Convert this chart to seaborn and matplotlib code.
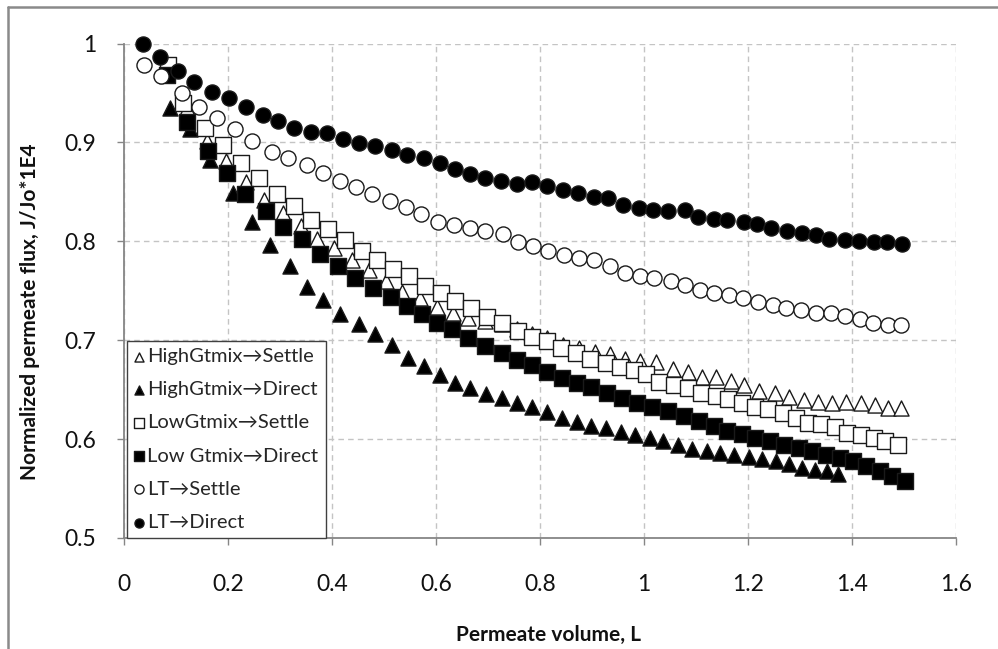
import matplotlib
matplotlib.use('Agg')
import matplotlib.pyplot as plt
import seaborn as sns
from matplotlib.lines import Line2D
from matplotlib.ticker import MultipleLocator, FuncFormatter

# values
high_settle_x = [0.084, 0.122, 0.159, 0.196, 0.234, 0.270, 0.305, 0.340, 0.371, 0.404,
                 0.438, 0.472, 0.504, 0.534, 0.569, 0.601, 0.633, 0.662, 0.694, 0.726,
                 0.755, 0.785, 0.813, 0.844, 0.875, 0.905, 0.934, 0.963, 0.993, 1.023,
                 1.055, 1.085, 1.111, 1.138, 1.167, 1.193, 1.222, 1.251, 1.278, 1.307,
                 1.335, 1.362, 1.389, 1.417, 1.444, 1.470, 1.495]
high_settle_y = [0.978, 0.935, 0.901, 0.881, 0.860, 0.842, 0.829, 0.815, 0.802, 0.793,
                 0.781, 0.771, 0.760, 0.749, 0.743, 0.734, 0.728, 0.722, 0.719, 0.716,
                 0.711, 0.706, 0.702, 0.695, 0.692, 0.688, 0.686, 0.681, 0.679, 0.678,
                 0.671, 0.668, 0.663, 0.663, 0.659, 0.655, 0.649, 0.647, 0.643, 0.640,
                 0.638, 0.637, 0.638, 0.637, 0.634, 0.631, 0.631]

high_direct_x = [0.088, 0.127, 0.165, 0.210, 0.247, 0.281, 0.319, 0.351, 0.383, 0.415,
                 0.451, 0.483, 0.515, 0.547, 0.576, 0.608, 0.637, 0.666, 0.697, 0.726,
                 0.756, 0.785, 0.813, 0.842, 0.871, 0.898, 0.926, 0.956, 0.983, 1.011,
                 1.037, 1.065, 1.093, 1.121, 1.147, 1.174, 1.201, 1.227, 1.253, 1.278,
                 1.304, 1.329, 1.351, 1.373]
high_direct_y = [0.935, 0.914, 0.882, 0.849, 0.820, 0.796, 0.775, 0.754, 0.741, 0.726,
                 0.716, 0.706, 0.695, 0.682, 0.674, 0.665, 0.657, 0.652, 0.646, 0.642,
                 0.637, 0.632, 0.627, 0.621, 0.617, 0.613, 0.611, 0.607, 0.604, 0.601,
                 0.598, 0.594, 0.590, 0.588, 0.586, 0.584, 0.582, 0.580, 0.578, 0.575,
                 0.571, 0.569, 0.568, 0.565]

low_settle_x = [0.085, 0.114, 0.156, 0.191, 0.225, 0.260, 0.294, 0.326, 0.360, 0.393,
                0.425, 0.457, 0.486, 0.518, 0.548, 0.579, 0.609, 0.637, 0.667, 0.698,
                0.727, 0.757, 0.785, 0.813, 0.841, 0.869, 0.897, 0.926, 0.954, 0.981,
                1.004, 1.028, 1.058, 1.085, 1.110, 1.138, 1.161, 1.188, 1.214, 1.238,
                1.267, 1.293, 1.315, 1.341, 1.367, 1.391, 1.417, 1.442, 1.463, 1.488]
low_settle_y = [0.978, 0.940, 0.915, 0.897, 0.879, 0.864, 0.848, 0.836, 0.822, 0.812,
                0.801, 0.790, 0.781, 0.772, 0.765, 0.755, 0.748, 0.740, 0.733, 0.723,
                0.717, 0.709, 0.703, 0.699, 0.692, 0.687, 0.681, 0.677, 0.673, 0.670,
                0.666, 0.658, 0.655, 0.652, 0.647, 0.644, 0.641, 0.637, 0.632, 0.630,
                0.626, 0.621, 0.616, 0.615, 0.612, 0.606, 0.604, 0.601, 0.598, 0.594]

low_direct_x = [0.082, 0.121, 0.162, 0.198, 0.233, 0.274, 0.306, 0.342, 0.377, 0.412,
                0.444, 0.479, 0.513, 0.544, 0.573, 0.601, 0.630, 0.662, 0.694, 0.726,
                0.755, 0.784, 0.813, 0.842, 0.871, 0.899, 0.928, 0.957, 0.987, 1.015,
                1.047, 1.076, 1.105, 1.134, 1.159, 1.188, 1.214, 1.243, 1.269, 1.298,
                1.324, 1.350, 1.376, 1.402, 1.427, 1.453, 1.476, 1.502]
low_direct_y = [0.968, 0.921, 0.891, 0.869, 0.848, 0.831, 0.814, 0.802, 0.787, 0.775,
                0.763, 0.753, 0.744, 0.735, 0.726, 0.717, 0.711, 0.702, 0.694, 0.687,
                0.680, 0.675, 0.668, 0.662, 0.657, 0.653, 0.647, 0.642, 0.637, 0.632,
                0.628, 0.623, 0.618, 0.613, 0.608, 0.605, 0.601, 0.598, 0.594, 0.591,
                0.588, 0.584, 0.581, 0.578, 0.573, 0.568, 0.563, 0.558]

lt_settle_x = [0.038, 0.071, 0.111, 0.144, 0.178, 0.213, 0.247, 0.284, 0.315, 0.351,
               0.383, 0.415, 0.447, 0.477, 0.511, 0.542, 0.572, 0.604, 0.635, 0.665,
               0.695, 0.728, 0.757, 0.786, 0.816, 0.846, 0.875, 0.904, 0.934, 0.964,
               0.993, 1.020, 1.051, 1.078, 1.108, 1.135, 1.163, 1.191, 1.220, 1.248,
               1.274, 1.302, 1.331, 1.360, 1.387, 1.415, 1.441, 1.469, 1.495]
lt_settle_y = [0.978, 0.967, 0.950, 0.936, 0.925, 0.914, 0.901, 0.890, 0.884, 0.877,
               0.869, 0.861, 0.855, 0.848, 0.841, 0.835, 0.828, 0.820, 0.816, 0.813,
               0.810, 0.807, 0.799, 0.795, 0.790, 0.786, 0.783, 0.781, 0.775, 0.768,
               0.765, 0.763, 0.760, 0.756, 0.751, 0.748, 0.746, 0.743, 0.739, 0.736,
               0.733, 0.731, 0.728, 0.727, 0.724, 0.721, 0.717, 0.715, 0.715]

lt_direct_x = [0.037, 0.069, 0.103, 0.135, 0.170, 0.201, 0.235, 0.267, 0.296, 0.326,
               0.359, 0.391, 0.422, 0.452, 0.483, 0.515, 0.545, 0.577, 0.607, 0.636,
               0.665, 0.695, 0.725, 0.755, 0.785, 0.813, 0.844, 0.874, 0.903, 0.930,
               0.960, 0.990, 1.017, 1.047, 1.078, 1.104, 1.135, 1.160, 1.192, 1.217,
               1.245, 1.275, 1.303, 1.330, 1.356, 1.387, 1.414, 1.442, 1.468, 1.497]
lt_direct_y = [1.000, 0.986, 0.972, 0.961, 0.951, 0.945, 0.936, 0.928, 0.922, 0.915,
               0.911, 0.909, 0.903, 0.899, 0.896, 0.892, 0.887, 0.884, 0.879, 0.873,
               0.868, 0.864, 0.861, 0.858, 0.860, 0.856, 0.852, 0.849, 0.845, 0.844,
               0.837, 0.834, 0.832, 0.831, 0.832, 0.825, 0.823, 0.822, 0.820, 0.817,
               0.813, 0.810, 0.808, 0.806, 0.802, 0.801, 0.800, 0.799, 0.799, 0.797]

labels = ['HighGtmix\u2192Settle', 'HighGtmix\u2192Direct', 'LowGtmix\u2192Settle',
          'Low Gtmix\u2192Direct', 'LT\u2192Settle', 'LT\u2192Direct']

sns.set_theme(style='white')
plt.rcParams['font.family'] = ['Lato', 'DejaVu Sans']

fig = plt.figure(figsize=(9.98, 6.49), dpi=100)
ax = fig.add_axes([124 / 998, 1 - 538 / 649, 832 / 998, 494.5 / 649])

series = [
    (high_settle_x, high_settle_y, '^', 'white'),
    (high_direct_x, high_direct_y, '^', 'black'),
    (low_settle_x, low_settle_y, 's', 'white'),
    (low_direct_x, low_direct_y, 's', 'black'),
    (lt_settle_x, lt_settle_y, 'o', 'white'),
    (lt_direct_x, lt_direct_y, 'o', 'black'),
]
for lab, (xs, ys, mk, fc) in zip(labels, series):
    sns.scatterplot(x=xs, y=ys, marker=mk, s=118, color=fc, edgecolor='#1a1a1a',
                    linewidth=1.0, ax=ax, label=lab, zorder=3, clip_on=False)

ax.set_xlim(0, 1.6)
ax.set_ylim(0.5, 1.0)
ax.xaxis.set_major_locator(MultipleLocator(0.2))
ax.yaxis.set_major_locator(MultipleLocator(0.1))
fmt = FuncFormatter(lambda v, p: f'{v:g}')
ax.xaxis.set_major_formatter(fmt)
ax.yaxis.set_major_formatter(fmt)

ax.grid(True, linestyle=(0, (4, 3)), color='#c4c4c4', linewidth=1.0)
ax.set_axisbelow(True)
for side in ['top', 'right']:
    ax.spines[side].set_visible(False)
for side in ['left', 'bottom']:
    ax.spines[side].set_color('#868686')
    ax.spines[side].set_linewidth(1.3)

ax.tick_params(axis='both', bottom=True, left=True, direction='out', length=5,
               width=1, color='#868686', labelsize=16.5, labelcolor='#111111')
ax.tick_params(axis='x', pad=21)
ax.tick_params(axis='y', pad=15)

ax.set_xlabel('Permeate volume, L', fontsize=15, fontweight='bold', color='#111111')
ax.set_ylabel('Normalized permeate flux, J/Jo*1E4', fontsize=15, fontweight='bold',
              color='#111111')
ax.xaxis.set_label_coords(0.51, -0.196)
ax.xaxis.label.set_va('center')
ax.yaxis.set_label_coords(-0.113, 0.458)
ax.yaxis.label.set_va('center')

handles, labs = ax.get_legend_handles_labels()
leg = ax.legend(handles, labs, loc='lower left', bbox_to_anchor=(0.004, 0.0),
                borderaxespad=0, frameon=True, fancybox=False, edgecolor='#404040',
                fontsize=14.5, markerscale=0.6, handletextpad=0.15, handlelength=0.5,
                labelspacing=0.8, borderpad=0.35, framealpha=1)
leg.get_frame().set_linewidth(1.0)

# outer chart border (left and top edges)
fig.add_artist(Line2D([8 / 998, 8 / 998], [0, 1 - 7 / 649], transform=fig.transFigure,
                      color='#8a8a8a', linewidth=1.8))
fig.add_artist(Line2D([8 / 998, 1], [1 - 7 / 649, 1 - 7 / 649], transform=fig.transFigure,
                      color='#8a8a8a', linewidth=1.8))

fig.savefig('out.png', dpi=100)
